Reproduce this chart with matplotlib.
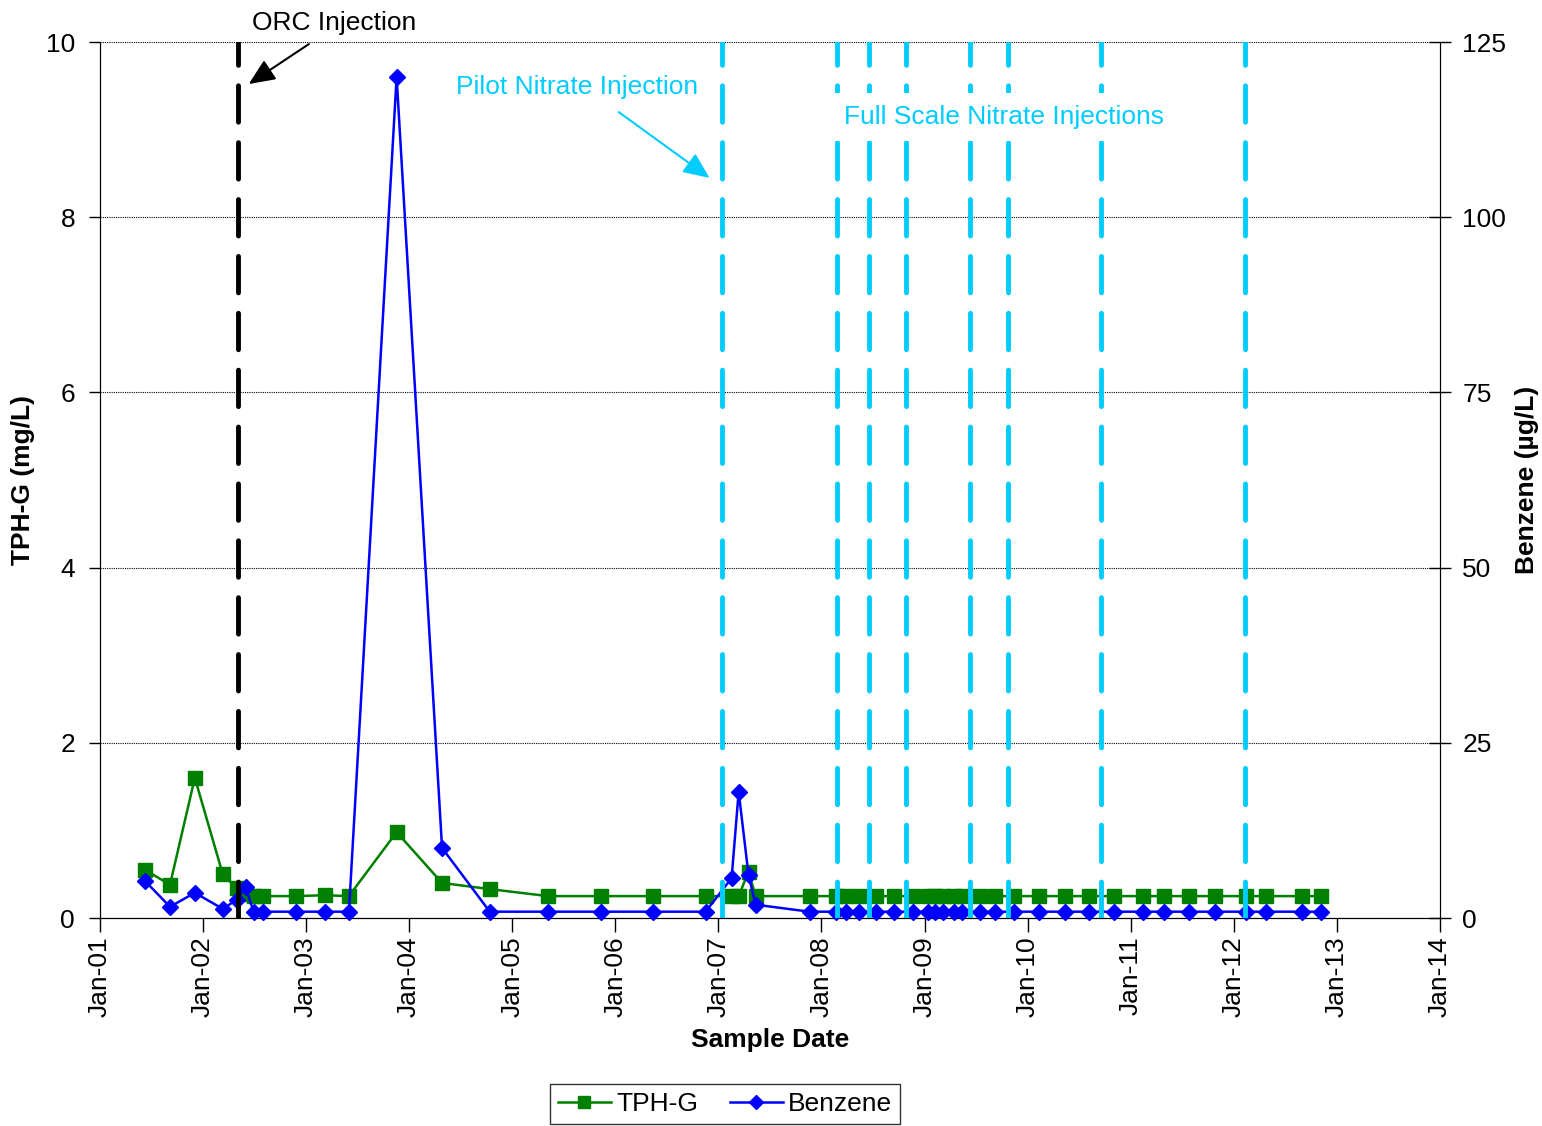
import numpy as np
import pandas as pd
import matplotlib
matplotlib.use("Agg")
import matplotlib.pyplot as plt
import matplotlib.dates as mdates

plt.rcParams['font.family'] = ['Liberation Sans', 'DejaVu Sans']

# ------------------------------------------------------------------
# Sampling data
# ------------------------------------------------------------------
sample_dates = [
    '2001-06-09', '2001-09-06', '2001-12-03', '2002-03-12', '2002-04-30',
    '2002-06-01', '2002-06-29', '2002-07-31', '2002-11-28', '2003-03-08',
    '2003-06-02', '2003-11-18', '2004-04-27', '2004-10-13', '2005-05-07',
    '2005-11-10', '2006-05-14', '2006-11-17', '2007-02-17', '2007-03-14',
    '2007-04-18', '2007-05-13', '2007-11-20', '2008-02-21', '2008-03-27',
    '2008-05-13', '2008-07-12', '2008-09-14', '2008-11-20', '2009-01-13',
    '2009-02-07', '2009-03-07', '2009-04-15', '2009-05-13', '2009-07-15',
    '2009-09-07', '2009-11-13', '2010-02-10', '2010-05-13', '2010-08-08',
    '2010-11-02', '2011-02-13', '2011-04-28', '2011-07-25', '2011-10-25',
    '2012-02-13', '2012-04-24', '2012-08-29', '2012-11-04',
]

tph_g = [
    0.55, 0.38, 1.60, 0.50, 0.34,
    0.27, 0.25, 0.25, 0.25, 0.26,
    0.25, 0.98, 0.40, 0.33, 0.25,
    0.25, 0.25, 0.25, 0.25, 0.25,
    0.53, 0.25, 0.25, 0.25, 0.25,
    0.25, 0.25, 0.25, 0.25, 0.25,
    0.25, 0.25, 0.25, 0.25, 0.25,
    0.25, 0.25, 0.25, 0.25, 0.25,
    0.25, 0.25, 0.25, 0.25, 0.25,
    0.25, 0.25, 0.25, 0.25,
]

benzene = [
    5.3, 1.6, 3.6, 1.3, 2.6,
    4.4, 0.9, 0.9, 0.9, 0.9,
    0.9, 120.0, 10.0, 0.9, 0.9,
    0.9, 0.9, 0.9, 5.7, 18.0,
    6.1, 1.9, 0.9, 0.9, 0.9,
    0.9, 0.9, 0.9, 0.9, 0.9,
    0.9, 0.9, 0.9, 0.9, 0.9,
    0.9, 0.9, 0.9, 0.9, 0.9,
    0.9, 0.9, 0.9, 0.9, 0.9,
    0.9, 0.9, 0.9, 0.9,
]

orc_date = '2002-05-04'
pilot_date = '2007-01-13'
full_scale_dates = ['2008-02-25', '2008-06-17', '2008-10-27', '2009-06-10',
                    '2009-10-23', '2010-09-17', '2012-02-09']

dates = pd.to_datetime(sample_dates)
cyan = '#00CCFF'
dash = (0, (7.5, 4.2))

# ------------------------------------------------------------------
# Plot
# ------------------------------------------------------------------
fig = plt.figure(figsize=(15.42, 11.26), dpi=100)
ax = fig.add_axes([100 / 1542, 1 - 918 / 1126, 1340 / 1542, 876 / 1126])
ax2 = ax.twinx()

l1, = ax.plot(dates, tph_g, color='#008000', lw=1.8, marker='s', ms=10,
              label='TPH-G', clip_on=False)
l2, = ax2.plot(dates, benzene, color='#0000FF', lw=1.8, marker='D', ms=8.5,
               label='Benzene', clip_on=False, zorder=3)

# injection lines (drawn on top of the data)
ax2.axvline(pd.Timestamp(orc_date), color='black', lw=3.5, ls=dash,
            dash_capstyle='round', zorder=5)
ax2.axvline(pd.Timestamp(pilot_date), color=cyan, lw=3.5, ls=dash,
            dash_capstyle='round', zorder=5)
for d in full_scale_dates:
    ax2.axvline(pd.Timestamp(d), color=cyan, lw=3.5, ls=dash,
                dash_capstyle='round', zorder=5)

# annotations
ax2.text(pd.Timestamp('2003-04-12'), 127.7, 'ORC Injection', fontsize=19,
         ha='center', va='center', color='black', clip_on=False)
ax2.annotate('', xy=(pd.Timestamp('2002-06-12'), 119.0),
             xytext=(pd.Timestamp('2003-01-11'), 124.7),
             arrowprops=dict(arrowstyle='-|>,head_length=0.8,head_width=0.35',
                             color='black', lw=1.5, mutation_scale=20,
                             shrinkA=0, shrinkB=0), annotation_clip=False)

ax2.text(pd.Timestamp('2005-08-20'), 118.6, 'Pilot Nitrate Injection',
         fontsize=19, ha='center', va='center', color=cyan)
ax2.annotate('', xy=(pd.Timestamp('2006-12-01'), 105.6),
             xytext=(pd.Timestamp('2006-01-13'), 115.0),
             arrowprops=dict(arrowstyle='-|>,head_length=0.8,head_width=0.35',
                             color=cyan, lw=1.5, mutation_scale=20,
                             shrinkA=0, shrinkB=0))

ax2.text(pd.Timestamp('2009-10-08'), 114.3, 'Full Scale Nitrate Injections',
         fontsize=19, ha='center', va='center', color=cyan, zorder=10,
         bbox=dict(facecolor='white', edgecolor='none', pad=9))

# axes
ax.set_xlim(pd.Timestamp('2001-01-01'), pd.Timestamp('2014-01-01'))
ax.set_ylim(0, 10)
ax2.set_ylim(0, 125)
ax.set_yticks(np.arange(0, 11, 2))
ax2.set_yticks(np.arange(0, 126, 25))
ax.xaxis.set_major_locator(mdates.YearLocator())
ax.xaxis.set_major_formatter(mdates.DateFormatter('%b-%y'))
for lbl in ax.get_xticklabels():
    lbl.set_rotation(90)

ax.tick_params(axis='x', direction='out', length=10, width=1, pad=3,
               labelsize=19)
ax.tick_params(axis='y', direction='out', length=8, width=1, pad=10,
               labelsize=19)
ax2.tick_params(axis='y', direction='inout', length=16, width=1, pad=8,
                labelsize=19)

ax.grid(axis='y', color='black', ls=(0, (1, 1)), lw=0.8)
for a in (ax, ax2):
    a.spines['top'].set_visible(False)

ax.set_ylabel('TPH-G (mg/L)', fontsize=19, fontweight='bold', labelpad=8)
ax2.set_ylabel('Benzene (µg/L)', fontsize=19, fontweight='bold', labelpad=6)
ax.set_xlabel('Sample Date', fontsize=19, fontweight='bold', labelpad=8)

leg = fig.legend(handles=[l1, l2], loc='center', ncol=2,
                 bbox_to_anchor=(725 / 1542, 1 - 1104 / 1126), fontsize=19,
                 frameon=True, fancybox=False, edgecolor='black',
                 handlelength=2.0, columnspacing=1.2, borderpad=0.3,
                 handletextpad=0.2, markerscale=0.85)
leg.get_frame().set_linewidth(1.0)

fig.savefig('out.png', dpi=100)
